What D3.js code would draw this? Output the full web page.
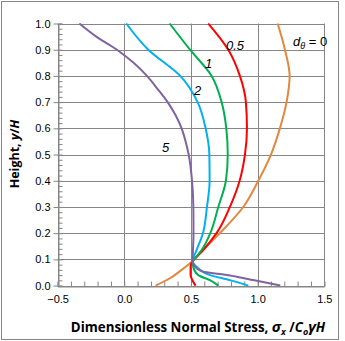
<!DOCTYPE html>
<html>
<head>
    <meta http-equiv="Content-Type" content="text/html;charset=utf8" />
    <title>Normal stress profiles</title>
    <script src="https://d3js.org/d3.v7.min.js"></script>
    <style>
        body { margin: 0; background: #fff; }
        svg text { font-family: "Liberation Sans", Arial, sans-serif; }
    </style>
</head>
<body>
<div id="chart"></div>
<script>
    // curves, [stress, height], top to bottom
    var d0 = [[1.15,1.0],[1.205,0.9],[1.24,0.8],[1.217,0.7],[1.167,0.6],[1.1,0.5],[1.005,0.4],[0.892,0.3],[0.717,0.2],[0.592,0.136],[0.513,0.094],[0.43,0.06],[0.343,0.028],[0.235,0.0]];
    var d05 = [[0.63,1.0],[0.78,0.9],[0.867,0.8],[0.912,0.7],[0.92,0.6],[0.905,0.5],[0.865,0.4],[0.792,0.3],[0.692,0.2],[0.592,0.136],[0.543,0.11],[0.513,0.094],[0.497,0.072],[0.497,0.04],[0.517,0.015],[0.535,0.0]];
    var d1 = [[0.34,1.0],[0.493,0.9],[0.655,0.8],[0.73,0.7],[0.765,0.6],[0.776,0.5],[0.762,0.4],[0.705,0.3],[0.645,0.2],[0.58,0.136],[0.53,0.104],[0.513,0.094],[0.517,0.072],[0.555,0.04],[0.642,0.021],[0.705,0.0]];
    var d2 = [[0.015,1.0],[0.18,0.9],[0.42,0.8],[0.55,0.7],[0.61,0.6],[0.638,0.5],[0.64,0.4],[0.62,0.3],[0.59,0.2],[0.543,0.136],[0.513,0.094],[0.555,0.066],[0.642,0.04],[0.792,0.021],[0.93,0.0]];
    var d5 = [[-0.337,1.0],[-0.21,0.95],[-0.055,0.9],[0.07,0.85],[0.17,0.8],[0.25,0.75],[0.325,0.7],[0.385,0.65],[0.43,0.6],[0.46,0.55],[0.483,0.5],[0.508,0.4],[0.518,0.3],[0.519,0.2],[0.513,0.094],[0.543,0.066],[0.592,0.053],[0.717,0.044],[0.843,0.034],[0.967,0.021],[1.17,0.0]];

    var xTicks = [-0.5, 0.0, 0.5, 1.0, 1.5];
    var yTicks = [0.0, 0.1, 0.2, 0.3, 0.4, 0.5, 0.6, 0.7, 0.8, 0.9, 1.0];

    var series = [
        {data: d0,  color: "#E2883E"},
        {data: d05, color: "#FF0000"},
        {data: d1,  color: "#00B050"},
        {data: d2,  color: "#00B0F0"},
        {data: d5,  color: "#7F63A1"}
    ];

    (function() {
        var W = 345, H = 341;
        var pLeft = 57.6, pRight = 324.3, pTop = 23.5, pBottom = 285.6;

        var svg = d3.select("#chart").append("svg").attr("width", W).attr("height", H);

        svg.append("rect").attr("x", 1.5).attr("y", 1.5).attr("width", 337).attr("height", 338)
            .attr("fill", "#fff").attr("stroke", "#868686").attr("stroke-width", 1);

        var x = d3.scaleLinear().domain([-0.5, 1.5]).range([pLeft, pRight]);
        var y = d3.scaleLinear().domain([0, 1]).range([pBottom, pTop]);

        // grid
        var grid = svg.append("g").attr("stroke", "#868686").attr("stroke-width", 1);
        grid.selectAll("line.v").data(xTicks).enter().append("line")
            .attr("x1", function(d) { return Math.round(x(d)) + 0.5; })
            .attr("x2", function(d) { return Math.round(x(d)) + 0.5; })
            .attr("y1", y(0)).attr("y2", y(1));
        grid.selectAll("line.h").data(yTicks).enter().append("line")
            .attr("y1", function(d) { return Math.round(y(d)) + 0.5; })
            .attr("y2", function(d) { return Math.round(y(d)) + 0.5; })
            .attr("x1", x(-0.5)).attr("x2", x(1.5));

        // axes with inner minor ticks
        var xAxis = d3.axisBottom(x).tickValues(d3.range(-0.5, 1.51, 0.1)).tickSize(-5).tickFormat("");
        svg.append("g").attr("transform", "translate(0," + (Math.round(y(0)) + 0.5) + ")").call(xAxis)
            .call(function(g) { g.selectAll("line,path").attr("stroke", "#868686"); });
        svg.append("g").attr("transform", "translate(0," + (Math.round(y(0)) + 0.5) + ")")
            .call(d3.axisBottom(x).tickValues(xTicks).tickSize(0).tickPadding(9).tickFormat(d3.format(".1f")))
            .call(function(g) {
                g.select(".domain").remove();
                g.selectAll("text").attr("font-size", 11).attr("fill", "#000").attr("font-family", "Liberation Sans, Arial, sans-serif");
            });

        var yAxis = d3.axisLeft(y).tickValues(d3.range(0, 1.001, 0.02)).tickSize(-4).tickFormat("");
        svg.append("g").attr("transform", "translate(" + (Math.round(x(-0.5)) + 0.5) + ",0)").call(yAxis)
            .call(function(g) { g.selectAll("line,path").attr("stroke", "#868686"); });
        svg.append("g").attr("transform", "translate(" + (Math.round(x(-0.5)) + 0.5) + ",0)")
            .call(d3.axisLeft(y).tickValues(yTicks).tickSize(5).tickPadding(3).tickFormat(d3.format(".1f")))
            .call(function(g) {
                g.select(".domain").remove();
                g.selectAll("line").attr("stroke", "#868686");
                g.selectAll("text").attr("font-size", 11).attr("fill", "#000").attr("font-family", "Liberation Sans, Arial, sans-serif");
            });

        // curves
        var line = d3.line()
            .x(function(d) { return x(d[0]); })
            .y(function(d) { return y(d[1]); })
            .curve(d3.curveMonotoneY);

        svg.append("g").selectAll("path").data(series).enter().append("path")
            .attr("d", function(s) { return line(s.data); })
            .attr("fill", "none")
            .attr("stroke", function(s) { return s.color; })
            .attr("stroke-width", 2);

        // curve labels
        var labels = svg.append("g").attr("font-size", 13).attr("font-style", "italic").attr("fill", "#000")
            .style("font-family", "Open Sans, sans-serif");
        labels.append("text").attr("x", 226).attr("y", 50).text("0.5");
        labels.append("text").attr("x", 205).attr("y", 68).text("1");
        labels.append("text").attr("x", 194).attr("y", 95).text("2");
        labels.append("text").attr("x", 162).attr("y", 152).text("5");
        var dt = labels.append("text").attr("x", 293).attr("y", 46).attr("font-style", "normal");
        dt.append("tspan").attr("font-style", "italic").text("d");
        dt.append("tspan").attr("font-style", "italic").attr("font-size", 9).attr("dy", 3).text("θ");
        dt.append("tspan").attr("dy", -3).text(" = 0");

        // axis titles
        var xt = svg.append("text").attr("x", 198).attr("y", 332).attr("text-anchor", "middle")
            .attr("font-size", 13.3).attr("font-weight", "bold").style("font-family", "Open Sans, sans-serif");
        xt.append("tspan").text("Dimensionless Normal Stress, ");
        xt.append("tspan").attr("font-style", "italic").attr("font-size", 15).text("σ");
        xt.append("tspan").attr("font-style", "italic").attr("font-size", 9).attr("dy", 3).text("x");
        xt.append("tspan").attr("dy", -3).text(" /");
        xt.append("tspan").attr("font-style", "italic").text("C");
        xt.append("tspan").attr("font-style", "italic").attr("font-size", 9).attr("dy", 3).text("o");
        xt.append("tspan").attr("dy", -3).attr("font-style", "italic").attr("font-size", 15).text("γ");
        xt.append("tspan").attr("font-style", "italic").text("H");

        var yt = svg.append("text").attr("transform", "translate(19,154) rotate(-90)").attr("text-anchor", "middle")
            .attr("font-size", 12.5).attr("font-weight", "bold").style("font-family", "Open Sans, sans-serif");
        yt.append("tspan").text("Height, ");
        yt.append("tspan").attr("font-style", "italic").text("y");
        yt.append("tspan").text("/");
        yt.append("tspan").attr("font-style", "italic").text("H");
    })();
</script>
</body>
</html>
